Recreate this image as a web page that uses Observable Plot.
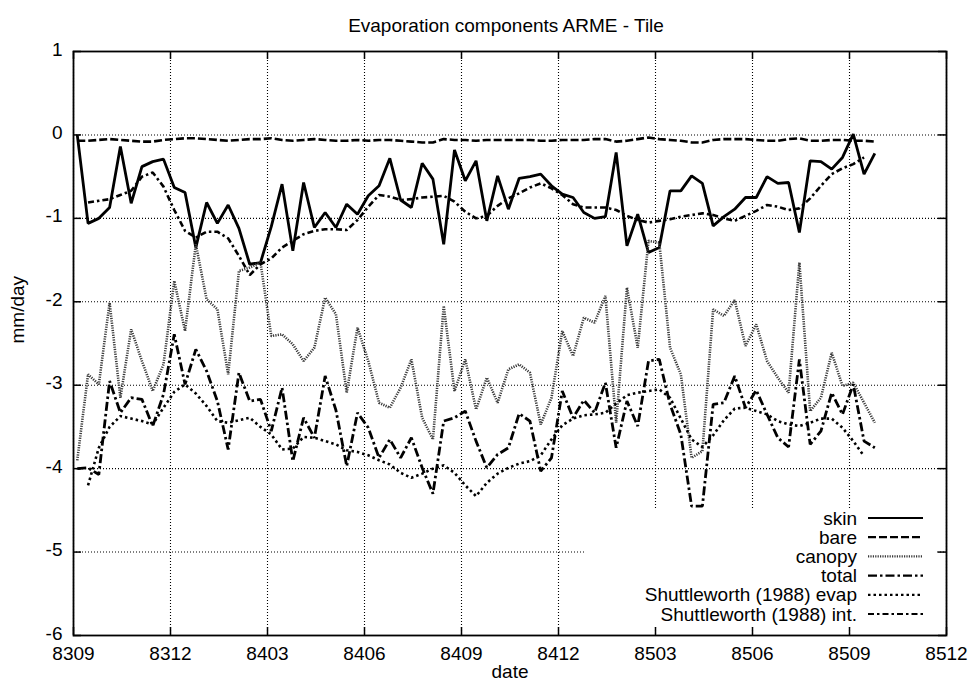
<!DOCTYPE html>
<html>
<head>
<meta charset="utf-8">
<script src="https://cdn.jsdelivr.net/npm/d3@7"></script>
<script src="https://cdn.jsdelivr.net/npm/@observablehq/plot@0.6"></script>
<style>
  body { margin: 0; background: #fff; }
  #wrap { position: relative; width: 968px; height: 685px; font-family: "Liberation Sans", Arial, Helvetica, sans-serif; }
</style>
</head>
<body>
<div id="wrap"></div>
<script>
// ---- data (dekadal values, mm/day) ----
const title = "Evaporation components ARME - Tile";
const xLabel = "date";
const yLabel = "mm/day";
const tickLabels = ["8309","8312","8403","8406","8409","8412","8503","8506","8509","8512"];
const yTicks = [1, 0, -1, -2, -3, -4, -5, -6];
const seriesNames = ["skin", "bare", "canopy", "total", "Shuttleworth (1988) evap", "Shuttleworth (1988) int."];

const skin = [0, -1.06, -1.0, -0.87, -0.14, -0.82, -0.38, -0.32, -0.29, -0.63,
  -0.69, -1.35, -0.81, -1.06, -0.84, -1.12, -1.55, -1.53, -1.1, -0.59,
  -1.39, -0.57, -1.11, -0.93, -1.11, -0.83, -0.95, -0.73, -0.61, -0.28,
  -0.78, -0.87, -0.34, -0.53, -1.31, -0.18, -0.55, -0.31, -1.03, -0.49,
  -0.89, -0.52, -0.5, -0.47, -0.61, -0.71, -0.75, -0.93, -1.0, -0.98,
  -0.21, -1.33, -0.95, -1.41, -1.35, -0.67, -0.67, -0.49, -0.58, -1.09,
  -0.98, -0.89, -0.75, -0.75, -0.5, -0.58, -0.57, -1.17, -0.31, -0.32,
  -0.41, -0.27, 0.01, -0.47, -0.22];

const bare = [-0.07, -0.07, -0.06, -0.05, -0.06, -0.07, -0.08, -0.08, -0.06, -0.05,
  -0.04, -0.04, -0.05, -0.06, -0.07, -0.06, -0.05, -0.05, -0.04, -0.06,
  -0.07, -0.06, -0.05, -0.06, -0.07, -0.07, -0.06, -0.07, -0.06, -0.06,
  -0.07, -0.08, -0.09, -0.09, -0.05, -0.06, -0.06, -0.07, -0.06, -0.06,
  -0.06, -0.06, -0.06, -0.07, -0.07, -0.06, -0.06, -0.06, -0.05, -0.05,
  -0.08, -0.07, -0.05, -0.03, -0.05, -0.06, -0.07, -0.09, -0.09, -0.06,
  -0.05, -0.05, -0.05, -0.06, -0.07, -0.07, -0.05, -0.04, -0.07, -0.07,
  -0.06, -0.06, -0.07, -0.07, -0.08];

const canopy = [-3.9, -2.87, -2.99, -2.01, -3.15, -2.33, -2.71, -3.07, -2.75, -1.75,
  -2.35, -1.31, -1.97, -2.09, -2.87, -1.63, -1.59, -1.53, -2.41, -2.39,
  -2.51, -2.71, -2.55, -1.95, -2.15, -3.09, -2.31, -2.71, -3.21, -3.27,
  -3.03, -2.69, -3.39, -3.65, -2.05, -3.07, -2.69, -3.29, -2.91, -3.21,
  -2.81, -2.75, -2.85, -3.47, -3.15, -2.35, -2.65, -2.19, -2.25, -1.93,
  -3.45, -1.83, -2.55, -1.27, -1.29, -2.55, -2.87, -3.87, -3.79, -2.09,
  -2.17, -1.98, -2.53, -2.27, -2.71, -2.91, -3.09, -1.53, -3.31, -3.15,
  -2.61, -3.01, -2.97, -3.21, -3.45];

const total = [-4.0, -3.99, -4.07, -2.95, -3.33, -3.15, -3.17, -3.49, -3.11, -2.39,
  -2.99, -2.57, -2.83, -3.19, -3.77, -2.85, -3.19, -3.17, -3.55, -3.03,
  -3.91, -3.39, -3.63, -2.89, -3.3, -3.97, -3.33, -3.51, -3.87, -3.65,
  -3.87, -3.63, -3.99, -4.3, -3.43, -3.39, -3.31, -3.67, -3.99, -3.83,
  -3.75, -3.34, -3.43, -4.03, -3.87, -3.07, -3.39, -3.18, -3.33, -2.97,
  -3.75, -3.19, -3.49, -2.71, -2.69, -3.23, -3.59, -4.45, -4.45, -3.23,
  -3.21, -2.89, -3.27, -3.06, -3.35, -3.63, -3.74, -2.69, -3.71, -3.55,
  -3.09, -3.35, -2.99, -3.67, -3.75];

const shuttleEvap = [null, -4.2, -3.75, -3.5, -3.37, -3.40, -3.43, -3.47, -3.27, -3.08,
  -2.99, -3.10, -3.25, -3.43, -3.45, -3.42, -3.39, -3.50, -3.59, -3.77,
  -3.76, -3.62, -3.63, -3.67, -3.71, -3.78, -3.80, -3.84, -3.90, -3.95,
  -4.05, -4.11, -4.06, -4.00, -3.96, -4.05, -4.20, -4.33, -4.17, -4.06,
  -3.99, -3.94, -3.91, -3.84, -3.65, -3.48, -3.40, -3.36, -3.35, -3.33,
  -3.22, -3.12, -3.09, -3.07, -3.05, -3.15, -3.40, -3.65, -3.74, -3.60,
  -3.42, -3.28, -3.27, -3.31, -3.35, -3.43, -3.47, -3.49, -3.45, -3.40,
  -3.40, -3.51, -3.67, -3.85, null];

const shuttleInt = [null, -0.81, -0.79, -0.77, -0.72, -0.67, -0.50, -0.45, -0.62, -0.90,
  -1.15, -1.23, -1.16, -1.16, -1.24, -1.45, -1.68, -1.55, -1.48, -1.35,
  -1.27, -1.19, -1.15, -1.13, -1.13, -1.14, -1.02, -0.86, -0.72, -0.74,
  -0.78, -0.77, -0.75, -0.74, -0.73, -0.80, -0.92, -1.00, -0.97, -0.85,
  -0.76, -0.70, -0.63, -0.58, -0.64, -0.72, -0.83, -0.87, -0.87, -0.87,
  -0.90, -0.97, -1.02, -1.05, -1.03, -1.01, -0.98, -0.96, -0.94, -0.96,
  -1.00, -1.03, -0.97, -0.91, -0.84, -0.86, -0.90, -0.88, -0.76, -0.61,
  -0.47, -0.40, -0.35, -0.27, null];

// ---- styles ----
const seriesValues = [skin, bare, canopy, total, shuttleEvap, shuttleInt];
const seriesStyle = [
  {stroke: "#000", strokeWidth: 2.8, dash: null},
  {stroke: "#000", strokeWidth: 2.6, dash: "8,3"},
  {stroke: "#3a3a3a", strokeWidth: 2.6, dash: "1.2,1.2"},
  {stroke: "#000", strokeWidth: 2.8, dash: "9,3,2.5,3"},
  {stroke: "#000", strokeWidth: 2.6, dash: "2.5,3"},
  {stroke: "#000", strokeWidth: 2.6, dash: "6,3,2.5,3"}
];
const dekadOffset = 0.35; // first value falls a few days into Sep 1983
const monthOf = i => (i + dekadOffset) / 3;   // months since 8309

const W = 968, H = 685;
const mL = 73, mR = 22, mT = 51, mB = 50;
const innerW = W - mL - mR, innerH = H - mT - mB;
const tick = 8;
const xTickVals = tickLabels.map((_, k) => 3 * k);
const font = "'Liberation Sans', Arial, Helvetica, sans-serif";

const lineMarks = seriesValues.map((vals, s) => {
  const st = seriesStyle[s];
  const rows = vals.map((v, i) => ({x: monthOf(i), y: v == null ? NaN : v}));
  return Plot.line(rows, {
    x: "x", y: "y",
    stroke: st.stroke, strokeWidth: st.strokeWidth,
    strokeDasharray: st.dash || undefined,
    strokeLinejoin: "miter", strokeLinecap: "butt"
  });
});

const gridStyle = {stroke: "#000", strokeOpacity: 1, strokeWidth: 1.1, strokeDasharray: "1,2"};

const chart = Plot.plot({
  width: W, height: H,
  marginLeft: mL, marginRight: mR, marginTop: mT, marginBottom: mB,
  style: {fontFamily: font, fontSize: "19px", background: "#fff", color: "#000", overflow: "visible"},
  x: {domain: [0, 27]},
  y: {domain: [-6, 1]},
  marks: [
    Plot.gridX(xTickVals, gridStyle),
    Plot.gridY(yTicks, gridStyle),
    ...lineMarks,
    Plot.frame({stroke: "#000", strokeWidth: 1.8}),
    Plot.tickX(xTickVals, {x: d => d, insetBottom: innerH - tick, stroke: "#000", strokeWidth: 1.5}),
    Plot.tickX(xTickVals, {x: d => d, insetTop: innerH - tick, stroke: "#000", strokeWidth: 1.5}),
    Plot.tickY(yTicks, {y: d => d, insetRight: innerW - tick, stroke: "#000", strokeWidth: 1.5}),
    Plot.tickY(yTicks, {y: d => d, insetLeft: innerW - tick, stroke: "#000", strokeWidth: 1.5}),
    Plot.axisX(xTickVals, {tickSize: 0, tickPadding: 11, tickFormat: d => tickLabels[Math.round(d / 3)], label: null, fill: "#000", fontSize: 19}),
    Plot.axisY(yTicks, {tickSize: 0, tickPadding: 11, dy: -2, tickFormat: d => String(d), label: null, fill: "#000", fontSize: 19}),
    Plot.text([yLabel], {frameAnchor: "left", dx: -56, rotate: -90, fill: "#000", fontSize: 19}),
    Plot.text([xLabel], {frameAnchor: "bottom", dy: 42, fill: "#000", fontSize: 19}),
    Plot.text([title], {frameAnchor: "top", dy: -33, dx: -4, fill: "#000", fontSize: 19})
  ]
});

const wrap = document.getElementById("wrap");
wrap.appendChild(chart);
chart.style.position = "absolute";
chart.style.left = "0px";
chart.style.top = "0px";

// ---- legend (blank box over the grid, bottom right, like gnuplot) ----
const legW = 351, legH = 117;
const leg = d3.create("svg")
  .attr("width", legW).attr("height", legH)
  .style("position", "absolute").style("left", "586px").style("top", "509px")
  .style("background", "#fff").style("overflow", "visible");
const textRight = 271, sampleX1 = 282, sampleX2 = 337, row0 = 9, rowStep = 19.2;
seriesNames.forEach((name, k) => {
  const st = seriesStyle[k];
  const y = row0 + k * rowStep;
  leg.append("text")
    .attr("x", textRight).attr("y", y).attr("dy", "0.35em")
    .attr("text-anchor", "end")
    .style("font-family", font).style("font-size", "19px").attr("fill", "#000")
    .text(name);
  leg.append("line")
    .attr("x1", sampleX1).attr("x2", sampleX2).attr("y1", y).attr("y2", y)
    .attr("stroke", st.stroke).attr("stroke-width", Math.min(st.strokeWidth, 2.2))
    .attr("stroke-dasharray", st.dash);
});
wrap.appendChild(leg.node());
</script>
</body>
</html>
